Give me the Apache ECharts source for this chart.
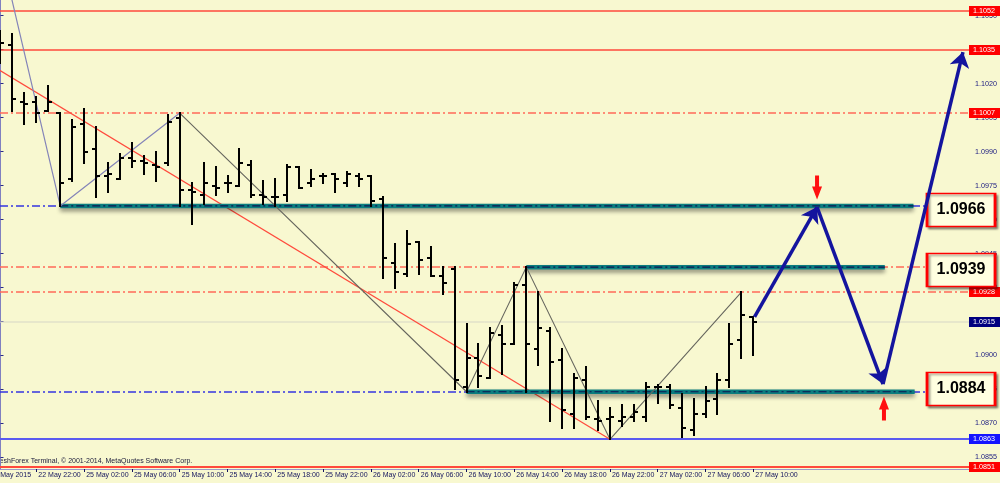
<!DOCTYPE html>
<html>
<head>
<meta charset="utf-8">
<script src="https://cdn.jsdelivr.net/npm/echarts@6/dist/echarts.min.js"></script>
<style>
html,body{margin:0;padding:0;background:#f8f8d0;}
#chart{width:1000px;height:483px;}
</style>
</head>
<body>
<div id="chart"></div>
<script>
// ---------------- DATA ----------------
// EURUSD H1 bars (index 0 = first visible bar, 22 May 2015 19:00)
const opens  = [1.1040,1.1037,1.1012,1.1012,1.1008,1.1007,1.0978,1.1002,1.0991,1.0979,1.0978,1.0987,1.0986,1.0984,1.0985,1.1005,
                1.0973,1.0971,1.0975,1.0976,1.0975,1.0984,1.0971,1.0970,1.0971,1.0983,1.0976,1.0979,1.0980,1.0976,1.0979,1.0979,
                1.0969,1.0941,1.0936,1.0950,1.0943,1.0935,1.0938,1.0886,1.0899,1.0890,1.0909,1.0905,1.0931,1.0903,1.0911,1.0898,
                1.0874,1.0889,1.0872,1.0872,1.0871,1.0873,1.0873,1.0886,1.0886,1.0877,1.0867,1.0874,1.0881,1.0889,1.0907,1.0917];
const highs  = [1.1043,1.1042,1.1016,1.1014,1.1019,1.1007,1.1004,1.1009,1.1001,1.0985,1.0989,1.0994,1.0988,1.0990,1.1006,1.1007,
                1.0976,1.0985,1.0983,1.0979,1.0991,1.0986,1.0977,1.0978,1.0984,1.0983,1.0982,1.0980,1.0980,1.0981,1.0980,1.0979,
                1.0970,1.0949,1.0955,1.0950,1.0948,1.0939,1.0939,1.0914,1.0905,1.0912,1.0913,1.0932,1.0939,1.0928,1.0912,1.0903,
                1.0892,1.0895,1.0880,1.0877,1.0878,1.0878,1.0888,1.0887,1.0887,1.0883,1.0881,1.0886,1.0892,1.0914,1.0928,1.0917];
const lows   = [1.1029,1.1008,1.1002,1.1003,1.1008,1.0966,1.0977,1.0985,1.0970,1.0972,1.0978,1.0983,1.0980,1.0977,1.0984,1.0966,
                1.0958,1.0967,1.0971,1.0972,1.0975,1.0970,1.0967,1.0966,1.0968,1.0974,1.0975,1.0976,1.0972,1.0975,1.0975,1.0966,
                1.0934,1.0930,1.0935,1.0936,1.0935,1.0927,1.0885,1.0884,1.0886,1.0890,1.0892,1.0905,1.0884,1.0896,1.0871,1.0868,
                1.0868,1.0872,1.0867,1.0863,1.0869,1.0871,1.0871,1.0879,1.0877,1.0864,1.0865,1.0873,1.0874,1.0886,1.0899,1.0900];
const closes = [1.1038,1.1013,1.1011,1.1007,1.1012,1.0976,1.1001,1.0990,1.0979,1.0980,1.0987,1.0986,1.0985,1.0983,1.1003,1.0973,
                1.0972,1.0976,1.0974,1.0976,1.0985,1.0971,1.0970,1.0970,1.0983,1.0974,1.0978,1.0979,1.0978,1.0980,1.0978,1.0968,
                1.0943,1.0937,1.0949,1.0942,1.0935,1.0932,1.0889,1.0899,1.0891,1.0910,1.0905,1.0931,1.0905,1.0912,1.0897,1.0876,
                1.0890,1.0873,1.0871,1.0873,1.0873,1.0875,1.0886,1.0886,1.0878,1.0868,1.0874,1.0880,1.0889,1.0905,1.0918,1.0915];

// time axis labels and the bar index they belong to
const timeLabels = ['22 May 2015','22 May 22:00','25 May 02:00','25 May 06:00','25 May 10:00','25 May 14:00','25 May 18:00',
                    '25 May 22:00','26 May 02:00','26 May 06:00','26 May 10:00','26 May 14:00','26 May 18:00','26 May 22:00',
                    '27 May 02:00','27 May 06:00','27 May 10:00'];
const timeLabelBars = [-1,3,7,11,15,19,23,27,31,35,39,43,47,51,55,59,63];

// price axis tick labels
const priceTicks = [1.1050,1.1035,1.1020,1.1005,1.0990,1.0975,1.0960,1.0945,1.0930,1.0915,1.0900,1.0885,1.0870,1.0855];

// horizontal levels
const solidRedLevels = [1.1052,1.1035,1.0851];
const dashRedLevels  = [1.1007,1.0939,1.0928];
const taggedRedLevels = [1.1052,1.1035,1.1007,1.0928,1.0851];
const dashBlueLevels = [1.0966,1.0884];
const solidBlueLevels = [1.0863];
const bidPrice = 1.0915;

// thick support/resistance segments: price, start bar, end bar
const zonePrices = [1.0966,1.0939,1.0884];
const zoneStart  = [5,44,39];
const zoneEnd    = [76.4,74.0,76.5];

// zigzag and trend line (bar index, price)
const zigzagA = [[-1,1.1101],[5,1.0966],[15,1.1007]];
const zigzagB = [[15,1.1007],[39,1.0884],[44,1.0939],[51,1.0863],[62,1.0928]];
const trendLine = [[-2,1.1032],[51,1.0863]];

// projected path arrows (bar index, price)
const projection = [[63.1,1.0917],[68.33,1.09655],[73.85,1.08874],[80.54,1.10339]];

// annotation boxes
const boxTexts  = ['1.0966','1.0939','1.0884'];
const boxPrices = [1.09642,1.09377,1.08852];
const boxBar = 80.38;
// red marker arrows: [bar, price]
const downMarker = [68.33,1.09741];
const upMarker = [73.93,1.08766];

// ---------------- LAYOUT ----------------
const W = 1000, H = 483;
const gridLeft = 0, gridRight = 31, gridTop = 0, gridBottom = 14;
const barStep = 11.95, firstBarX = 0.5;
const xMin = (gridLeft - firstBarX) / barStep;
const xMax = (W - gridRight - firstBarX) / barStep;
const yMin = 1.08499, yMax = 1.10569;

const FONT = 'Liberation Sans';
const bg = '#f8f8d0';
const axisTextColor = '#14145e';
const dashDot = [8,3,2,3];

// level styles
const levelStyles = {
  solidRed: {stroke:'#ff4a3c', lineWidth:1.6, lineDash:null},
  dashRed:  {stroke:'#ff6a58', lineWidth:1.6, lineDash:dashDot},
  dashBlue: {stroke:'#3434e0', lineWidth:1.5, lineDash:dashDot},
  solidBlue:{stroke:'#5a5af0', lineWidth:1.8, lineDash:null},
  bid:      {stroke:'#d6d6c6', lineWidth:1, lineDash:null}
};
const levelRows = [];
solidRedLevels.forEach(v=>levelRows.push([v,'solidRed', taggedRedLevels.includes(v)?'#ff0000':'']));
dashRedLevels.forEach(v=>levelRows.push([v,'dashRed', taggedRedLevels.includes(v)?'#ff0000':'']));
dashBlueLevels.forEach(v=>levelRows.push([v,'dashBlue','']));
solidBlueLevels.forEach(v=>levelRows.push([v,'solidBlue','#1414ff']));
levelRows.push([bidPrice,'bid','#000080']);

const chart = echarts.init(document.getElementById('chart'), null, {renderer:'canvas', width:W, height:H});

function renderLevel(params, api){
  const row = levelRows[params.dataIndex];
  const cs = params.coordSys;
  const yRaw = api.coord([xMin, row[0]])[1];
  const st = levelStyles[row[1]];
  const thick = row[0] === 1.0851 ? 2.2 : st.lineWidth;
  const y = Math.round(yRaw);
  const children = [{type:'line', shape:{x1:cs.x, y1:y, x2:cs.x+cs.width, y2:y},
    style:{stroke:st.stroke, lineWidth:thick, lineDash:st.lineDash}}];
  if (row[2]) {
    const tx = cs.x + cs.width;
    children.push({type:'rect', shape:{x:tx, y:y-5, width:W-tx, height:10}, style:{fill:row[2]}, z2:10});
    children.push({type:'text', x:tx+4, y:y+0.5, z2:11,
      style:{text:row[0].toFixed(4), fill:'#ffffff', font:'7.2px "Liberation Sans"', verticalAlign:'middle', align:'left'}});
  }
  return {type:'group', children};
}

function renderBar(params, api){
  const x = api.value(0);
  const pO = api.coord([x, api.value(1)]);
  const pH = api.coord([x, api.value(2)]);
  const pL = api.coord([x, api.value(3)]);
  const pC = api.coord([x, api.value(4)]);
  const bx = Math.round(pH[0]);
  const st = {stroke:'#000000', lineWidth:2};
  return {type:'group', children:[
    {type:'line', shape:{x1:bx, y1:Math.round(pH[1])-1, x2:bx, y2:Math.round(pL[1])+1}, style:st},
    {type:'line', shape:{x1:bx-4, y1:Math.round(pO[1]), x2:bx, y2:Math.round(pO[1])}, style:st},
    {type:'line', shape:{x1:bx, y1:Math.round(pC[1]), x2:bx+4, y2:Math.round(pC[1])}, style:st}
  ]};
}

const series = [];
series.push({
  type:'custom', z:1, renderItem:renderLevel, silent:true, clip:false,
  data: levelRows.map(r=>[xMin, r[0]]), encode:{x:0, y:1}
});
series.push({type:'line', z:2, data:trendLine, showSymbol:false, silent:true, lineStyle:{color:'#ff4a3c', width:1.2}});
zonePrices.forEach((p,i)=>{
  series.push({type:'line', z:2, showSymbol:false, silent:true,
    data:[[zoneStart[i],p],[zoneEnd[i],p]],
    lineStyle:{color:'#0b7d7f', width:4.5, shadowColor:'rgba(0,0,0,0.45)', shadowBlur:4, shadowOffsetY:3}});
  series.push({type:'line', z:3, showSymbol:false, silent:true,
    data:[[zoneStart[i],p],[zoneEnd[i],p]],
    lineStyle:{color:'#0c1652', width:1.2, type:dashDot}});
});
series.push({type:'line', z:3, data:zigzagA, showSymbol:false, silent:true, lineStyle:{color:'#8484b8', width:1.2}});
series.push({type:'line', z:3, data:zigzagB, showSymbol:false, silent:true, lineStyle:{color:'#66665e', width:1.1}});
series.push({
  type:'custom', z:4, renderItem:renderBar, silent:true,
  data: opens.map((o,i)=>[i,o,highs[i],lows[i],closes[i]]),
  encode:{x:0, y:[1,2,3,4]}
});
const segs = [];
for (let i=0;i<projection.length-1;i++) segs.push({coords:[projection[i],projection[i+1]]});
series.push({
  type:'lines', coordinateSystem:'cartesian2d', z:5, silent:true,
  symbol:['none','arrow'], symbolSize:15,
  lineStyle:{color:'#14149e', width:3.5, opacity:1, curveness:0},
  data:segs
});
const boxPoints = boxTexts.map((t,i)=>({
  coord:[boxBar, boxPrices[i]], symbol:'rect', symbolSize:[68,33],
  itemStyle:{color:'#ffffe0', borderColor:'#ff0000', borderWidth:2,
    shadowColor:'rgba(0,0,0,0.35)', shadowBlur:2, shadowOffsetX:2, shadowOffsetY:2},
  label:{show:true, position:'inside', formatter:t, fontSize:16, fontWeight:'bold', color:'#000000', fontFamily:FONT}
}));
boxPoints.push({coord:downMarker, symbol:'path://M3,0L7,0L7,10L10,10L5,22L0,10L3,10Z', symbolSize:[10,24],
  itemStyle:{color:'#ff1010'}, label:{show:false}});
boxPoints.push({coord:upMarker, symbol:'path://M5,0L10,12L7,12L7,22L3,22L3,12L0,12Z', symbolSize:[10,24],
  itemStyle:{color:'#ff1010'}, label:{show:false}});
series.push({
  type:'line', z:6, data:[[boxBar, boxPrices[0]]], showSymbol:false, silent:true,
  lineStyle:{opacity:0},
  markPoint:{silent:true, animation:false, data:boxPoints}
});

const visibleTimeBars = timeLabelBars.filter(b=>b>=xMin);
const timeText = (v)=>{ const i = timeLabelBars.findIndex(b=>Math.abs(b-v)<0.01); return i>=0?timeLabels[i]:''; };

const option = {
  backgroundColor:bg,
  animation:false,
  grid:{left:gridLeft, right:gridRight, top:gridTop, bottom:gridBottom, containLabel:false},
  xAxis:{
    type:'value', min:xMin, max:xMax,
    axisLine:{show:true, lineStyle:{color:'#9a9ac8', width:1}},
    splitLine:{show:false},
    axisTick:{show:true, customValues:visibleTimeBars, length:3, lineStyle:{color:axisTextColor}},
    axisLabel:{show:true, customValues:visibleTimeBars, align:'left', margin:3, padding:[0,0,0,2],
      showMinLabel:true, showMaxLabel:true, hideOverlap:false,
      fontSize:7, fontFamily:FONT, color:axisTextColor, formatter:timeText}
  },
  yAxis:{
    type:'value', position:'right', min:yMin, max:yMax, scale:true,
    axisLine:{show:true, lineStyle:{color:'#8080c0', width:1}},
    splitLine:{show:false},
    axisTick:{show:true, customValues:priceTicks, length:3, inside:false, lineStyle:{color:'#2a2a8a'}},
    axisLabel:{show:true, customValues:priceTicks, margin:6, fontSize:7.2, fontFamily:FONT, color:'#1a1a80',
      showMinLabel:true, showMaxLabel:true, hideOverlap:false,
      formatter:(v)=>v.toFixed(4)}
  },
  series:series
};
chart.setOption(option);

// time labels whose bar lies left of the visible range (clipped by the window edge)
const hidden = timeLabelBars.filter(b=>b<xMin);
const baseY = chart.convertToPixel({yAxisIndex:0}, yMin);
chart.setOption({graphic:[
  {type:'text', x:-7, y:baseY-11, silent:true,
    style:{text:'FreshForex Terminal, © 2001-2014, MetaQuotes Software Corp.', font:'7px "Liberation Sans"', fill:'#1a1a3a'}}
].concat(hidden.map(b=>({
  type:'text', x:chart.convertToPixel({xAxisIndex:0}, b)+2, y:baseY+3, silent:true,
  style:{text:timeText(b), font:'7px "Liberation Sans"', fill:axisTextColor}
})))});
</script>
</body>
</html>
